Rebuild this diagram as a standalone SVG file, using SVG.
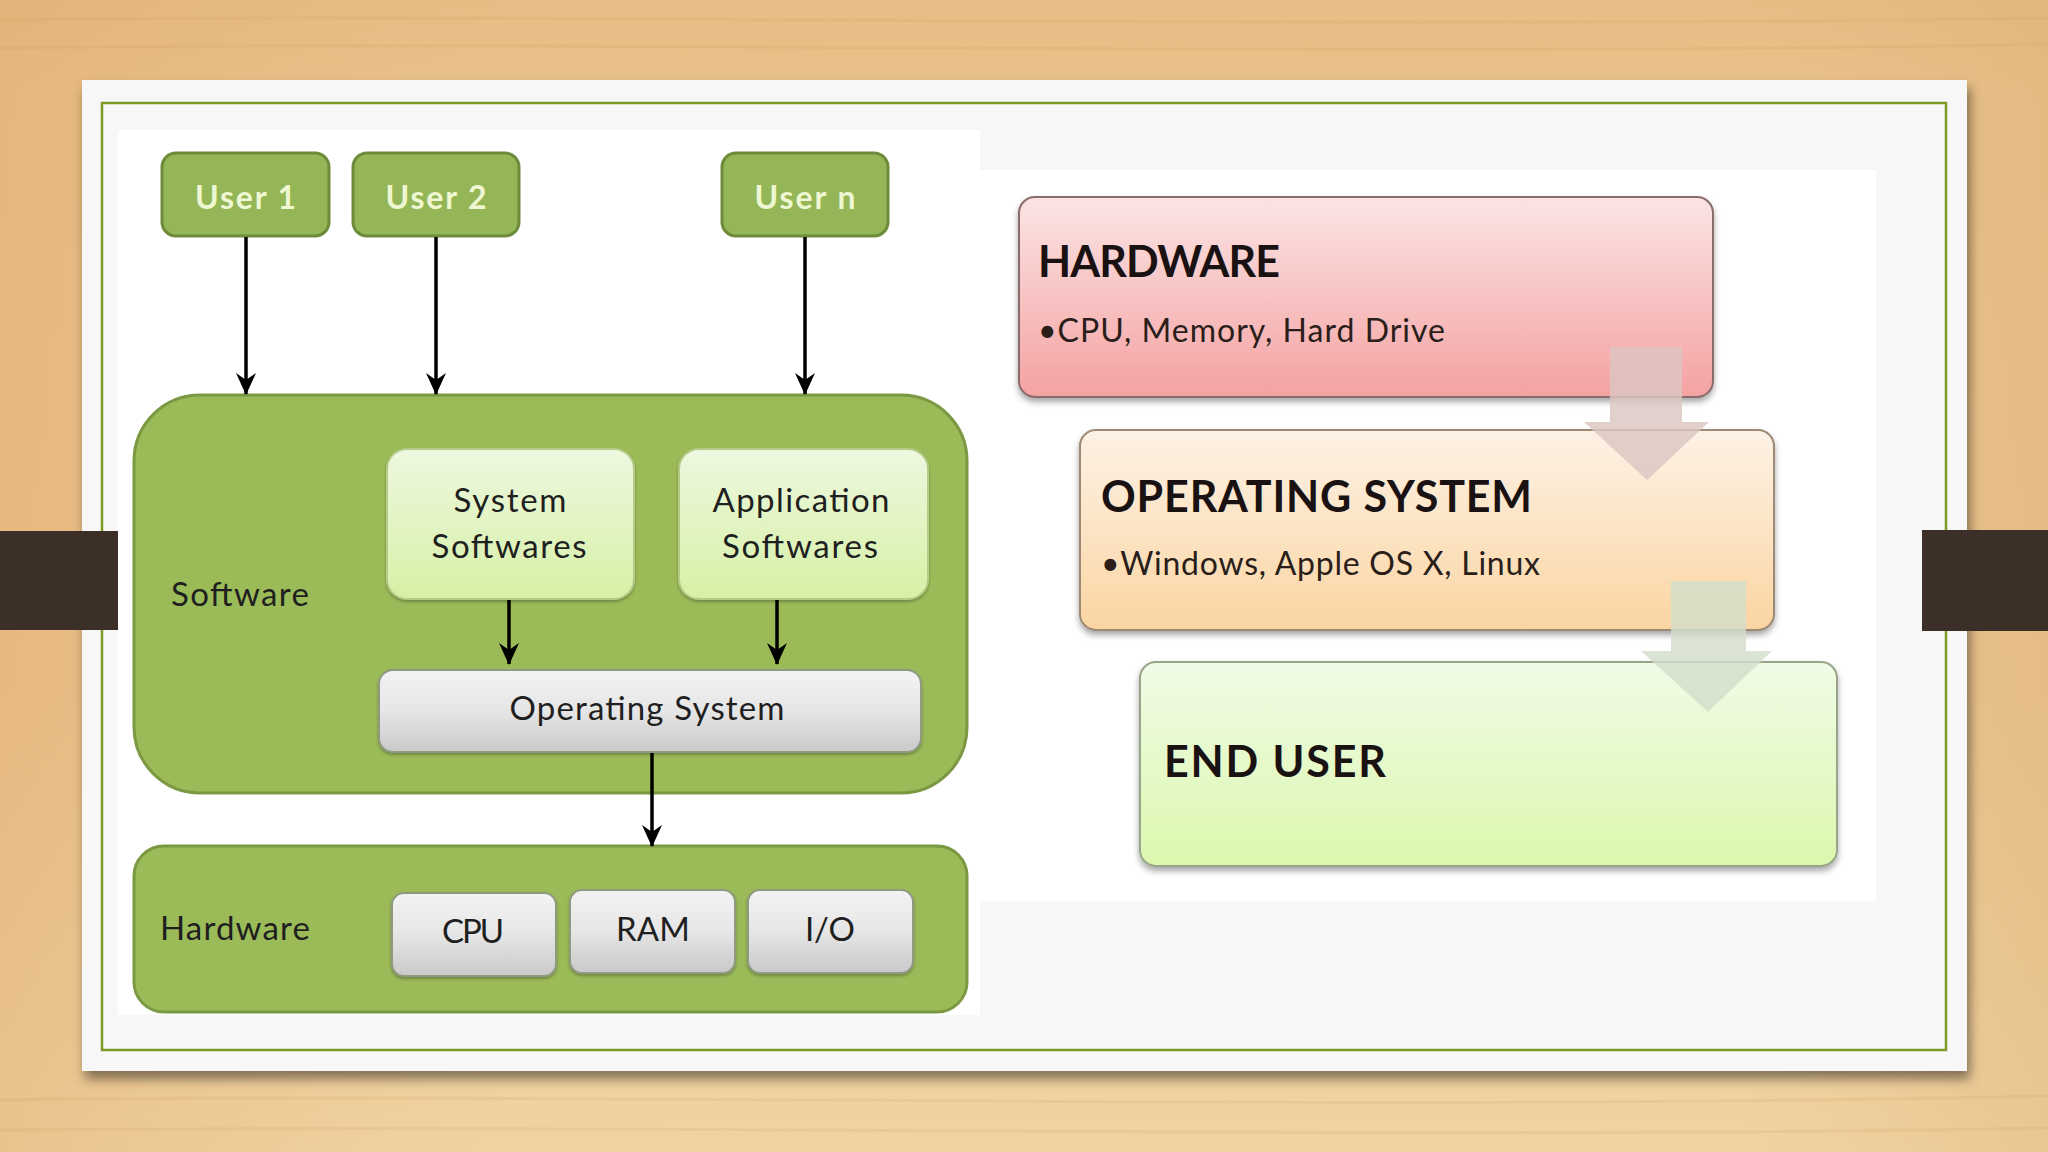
<svg xmlns="http://www.w3.org/2000/svg" width="2048" height="1152" viewBox="0 0 2048 1152">
<defs>
<style>
.lbl{font-family:Lato,"Open Sans","Liberation Sans",sans-serif;fill:#1f1f1f;font-size:33px}
.usr{font-family:Lato,"Open Sans","Liberation Sans",sans-serif;fill:#eef6d2;font-size:32px;font-weight:bold;text-anchor:middle}
.mid{text-anchor:middle}
.head{font-family:Lato,"Open Sans","Liberation Sans",sans-serif;fill:#1a1212;font-size:43px;font-weight:bold}
.sub{font-family:Lato,"Open Sans","Liberation Sans",sans-serif;fill:#2a1e1a;font-size:32px}
.user{fill:#94b656;stroke:#6e8b3b;stroke-width:3}
.big{fill:#9bbb59;stroke:#7b9842;stroke-width:3}
.soft{fill:url(#gSoft);stroke:#b5cc88;stroke-width:2}
.grey{fill:url(#gGrey);stroke:#8f9a80;stroke-width:2}
.conn{stroke:#000;stroke-width:3.5;fill:none;marker-end:url(#ah)}
</style>
<linearGradient id="gBg" x1="0" y1="0" x2="0" y2="1">
<stop offset="0" stop-color="#e6bd84"/>
<stop offset="0.08" stop-color="#e9c28a"/>
<stop offset="0.6" stop-color="#ebc58f"/>
<stop offset="1" stop-color="#f0d3a2"/>
</linearGradient>
<linearGradient id="gBgH" x1="0" y1="0" x2="1" y2="0">
<stop offset="0" stop-color="#dc9f60" stop-opacity="0.3"/>
<stop offset="0.25" stop-color="#e0b07a" stop-opacity="0"/>
<stop offset="0.85" stop-color="#e0b07a" stop-opacity="0"/>
<stop offset="1" stop-color="#d4a468" stop-opacity="0.25"/>
</linearGradient>
<linearGradient id="gSoft" x1="0" y1="0" x2="0" y2="1">
<stop offset="0" stop-color="#eef8e0"/>
<stop offset="1" stop-color="#d6f0a6"/>
</linearGradient>
<linearGradient id="gGrey" x1="0" y1="0" x2="0" y2="1">
<stop offset="0" stop-color="#f3f3f3"/>
<stop offset="0.5" stop-color="#e6e6e6"/>
<stop offset="1" stop-color="#c9c9c9"/>
</linearGradient>
<linearGradient id="gPink" x1="0" y1="0" x2="0" y2="1">
<stop offset="0" stop-color="#fbe4e4"/>
<stop offset="1" stop-color="#f5a2a2"/>
</linearGradient>
<linearGradient id="gPeach" x1="0" y1="0" x2="0" y2="1">
<stop offset="0" stop-color="#fdf2e6"/>
<stop offset="1" stop-color="#fbd5a2"/>
</linearGradient>
<linearGradient id="gLime" x1="0" y1="0" x2="0" y2="1">
<stop offset="0" stop-color="#f0fbe6"/>
<stop offset="1" stop-color="#dbf8ae"/>
</linearGradient>
<filter id="shCard" x="-5%" y="-5%" width="110%" height="115%">
<feDropShadow dx="3" dy="8" stdDeviation="6" flood-color="#000" flood-opacity="0.45"/>
</filter>
<filter id="shBox" x="-5%" y="-10%" width="110%" height="125%">
<feDropShadow dx="0" dy="4" stdDeviation="3" flood-color="#000" flood-opacity="0.35"/>
</filter>
<filter id="shSm" x="-5%" y="-10%" width="110%" height="130%">
<feDropShadow dx="0" dy="2" stdDeviation="1.5" flood-color="#3c4a20" flood-opacity="0.45"/>
</filter>
<marker id="ah" viewBox="0 0 22 22" refX="21" refY="11" markerWidth="22" markerHeight="22" markerUnits="userSpaceOnUse" orient="auto">
<path d="M0,1 L22,11 L0,21 L7,11 z" fill="#000"/>
</marker>
</defs>

<g id="background">
<rect x="0" y="0" width="2048" height="1152" fill="url(#gBg)"/>
<rect x="0" y="0" width="2048" height="1152" fill="url(#gBgH)"/>
<g stroke="#c9955a" stroke-opacity="0.15" stroke-width="3" fill="none">
<path d="M0,20 C500,12 1200,30 2048,18"/>
<path d="M0,48 C600,40 1400,58 2048,44"/>
<path d="M0,1100 C600,1092 1300,1112 2048,1096"/>
<path d="M0,1130 C700,1124 1400,1140 2048,1128"/>
</g>
</g>

<g id="card">
<rect x="82" y="80" width="1885" height="991" fill="#f7f7f7" filter="url(#shCard)"/>
<rect x="118" y="130" width="862" height="885" fill="#ffffff"/>
<rect x="980" y="170" width="896" height="731" fill="#ffffff"/>
<rect x="102" y="103" width="1844" height="947" fill="none" stroke="#7f9a22" stroke-width="2.5"/>
</g>

<g id="bars">
<rect x="0" y="531" width="118" height="99" fill="#3b2f27"/>
<rect x="1922" y="530" width="126" height="101" fill="#3b2f27"/>
</g>

<g id="software">
<rect class="big" x="134" y="395" width="833" height="398" rx="66"/>
<text class="lbl" x="171" y="606" textLength="138">Software</text>
</g>
<g id="hardware">
<rect class="big" x="134" y="846" width="833" height="166" rx="30"/>
<text class="lbl" x="160" y="940" textLength="150">Hardware</text>
</g>

<g id="user1">
<rect class="user" x="162" y="153" width="167" height="83" rx="14"/>
<text class="usr" x="245.5" y="209" textLength="101">User 1</text>
</g>
<g id="user2">
<rect class="user" x="353" y="153" width="166" height="83" rx="14"/>
<text class="usr" x="436" y="209" textLength="101">User 2</text>
</g>
<g id="usern">
<rect class="user" x="722" y="153" width="166" height="83" rx="14"/>
<text class="usr" x="805" y="209" textLength="101">User n</text>
</g>

<g id="system-softwares">
<rect class="soft" x="387" y="449" width="247" height="150" rx="20" filter="url(#shSm)"/>
<text class="lbl mid" x="510" y="512" textLength="113">System</text>
<text class="lbl mid" x="509" y="558" textLength="155">Softwares</text>
</g>
<g id="application-softwares">
<rect class="soft" x="679" y="449" width="249" height="150" rx="20" filter="url(#shSm)"/>
<text class="lbl mid" x="801" y="512" textLength="177">Application</text>
<text class="lbl mid" x="800" y="558" textLength="156">Softwares</text>
</g>
<g id="operating-system">
<rect class="grey" x="379" y="670" width="542" height="82" rx="14" filter="url(#shSm)"/>
<text class="lbl mid" x="647" y="720" textLength="275">Operating System</text>
</g>
<g id="cpu">
<rect class="grey" x="392" y="893" width="164" height="83" rx="12" filter="url(#shSm)"/>
<text class="lbl mid" x="473" y="943" textLength="62">CPU</text>
</g>
<g id="ram">
<rect class="grey" x="570" y="890" width="165" height="83" rx="12" filter="url(#shSm)"/>
<text class="lbl mid" x="653" y="941" textLength="74">RAM</text>
</g>
<g id="io">
<rect class="grey" x="748" y="890" width="165" height="83" rx="12" filter="url(#shSm)"/>
<text class="lbl mid" x="830" y="941" textLength="50">I/O</text>
</g>

<g id="connectors">
<line class="conn" x1="246" y1="237" x2="246" y2="394"/>
<line class="conn" x1="436" y1="237" x2="436" y2="394"/>
<line class="conn" x1="805" y1="237" x2="805" y2="394"/>
<line class="conn" x1="509" y1="600" x2="509" y2="664"/>
<line class="conn" x1="777" y1="600" x2="777" y2="664"/>
<line class="conn" x1="652" y1="753" x2="652" y2="846"/>
</g>

<g id="hw-layer">
<rect x="1019" y="197" width="694" height="200" rx="16" fill="url(#gPink)" stroke="#8a6c6c" stroke-width="2" filter="url(#shBox)"/>
<text class="head" x="1038" y="277" textLength="242">HARDWARE</text>
<text class="sub" x="1038" y="342" textLength="407">•CPU, Memory, Hard Drive</text>
</g>
<g id="os-layer">
<rect x="1080" y="430" width="694" height="200" rx="16" fill="url(#gPeach)" stroke="#9c8a74" stroke-width="2" filter="url(#shBox)"/>
<text class="head" x="1101" y="512" textLength="431">OPERATING SYSTEM</text>
<text class="sub" x="1101" y="575" textLength="439">•Windows, Apple OS X, Linux</text>
</g>
<g id="enduser-layer">
<rect x="1140" y="662" width="697" height="204" rx="16" fill="url(#gLime)" stroke="#98a58a" stroke-width="2" filter="url(#shBox)"/>
<text class="head" x="1164" y="777" font-size="44" textLength="222">END USER</text>
</g>

<g id="flow-arrows">
<path d="M1610,347 L1682,347 L1682,422 L1709,422 L1647,480 L1584,422 L1610,422 Z" fill="#dcc6c2" fill-opacity="0.82"/>
<path d="M1671,581 L1746,581 L1746,651 L1772,651 L1708,712 L1641,651 L1671,651 Z" fill="#d3decb" fill-opacity="0.82"/>
</g>
</svg>
